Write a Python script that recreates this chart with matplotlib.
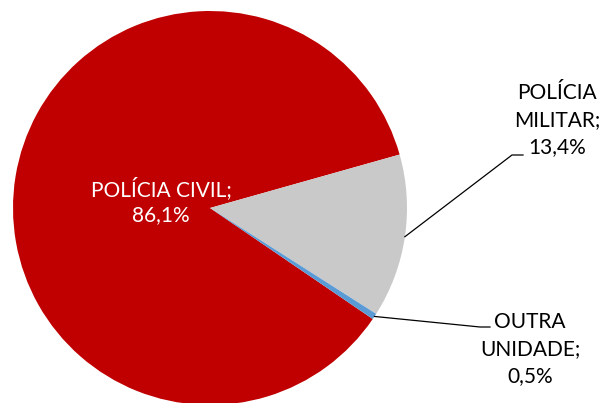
import numpy as np
import matplotlib.pyplot as plt

# Data
categories = ['POLÍCIA CIVIL', 'POLÍCIA MILITAR', 'OUTRA UNIDADE']
values = [86.1, 13.4, 0.5]
label_texts = ['POLÍCIA CIVIL;\n86,1%', 'POLÍCIA\nMILITAR;\n13,4%', 'OUTRA\nUNIDADE;\n0,5%']
colors = ['#C00000', '#C9C9C9', '#5B9BD5']

plt.rcParams['font.family'] = ['Lato', 'DejaVu Sans']

W, H = 603, 403
fig = plt.figure(figsize=(W / 100, H / 100), dpi=100)
cx, cy, R = 210, 208, 197
ax = fig.add_axes([(cx - R) / W, (H - cy - R) / H, 2 * R / W, 2 * R / H])

wedges, _ = ax.pie(values, colors=colors, startangle=325.7, counterclock=False,
                   radius=1, wedgeprops=dict(linewidth=0))
for w in wedges:
    w.set_clip_on(False)

ax.set_xlim(-1, 1)
ax.set_ylim(-1, 1)
ax.set_aspect('equal')
ax.axis('off')

def px(x, y):
    return (x - cx) / R, (cy - y) / R

# inside label
tx, ty = px(161, 201)
ax.text(tx, ty, label_texts[0], color='white', fontsize=15, ha='center', va='center',
        linespacing=1.3)

# outside labels with leader lines
elbows = [None, (px(512, 155), px(523, 155), px(557, 120)),
          (px(480, 327), px(490, 327), px(530, 349))]
for i in (1, 2):
    w = wedges[i]
    mid = np.deg2rad((w.theta1 + w.theta2) / 2)
    sx, sy = np.cos(mid), np.sin(mid)
    (ex, ey), (fx, fy), (lx, ly) = elbows[i]
    ax.plot([sx, ex, fx], [sy, ey, fy], color='black', lw=0.9, clip_on=False)
    ax.text(lx, ly, label_texts[i], color='black', fontsize=15, ha='center', va='center',
            linespacing=1.44, clip_on=False)

fig.savefig('out.png', dpi=100)
